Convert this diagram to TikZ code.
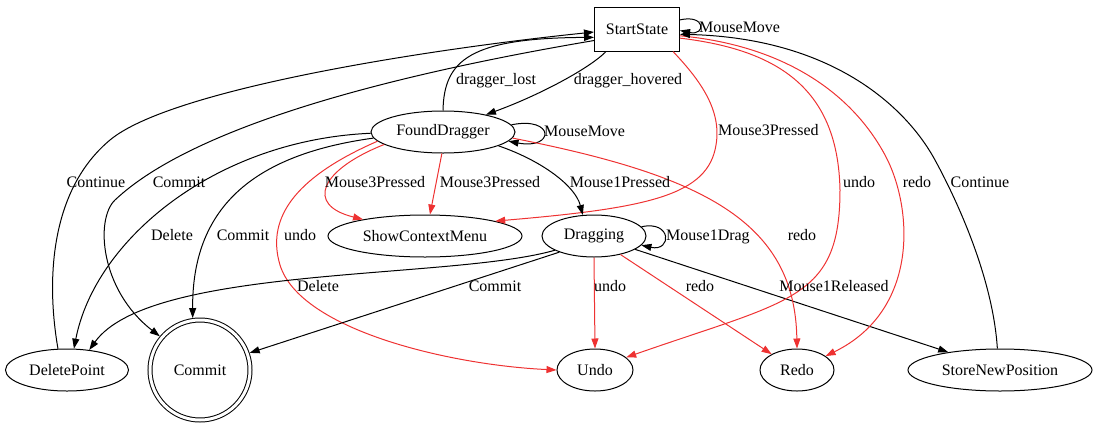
\documentclass[tikz,border=0pt]{standalone}
\usepackage{fontspec}
\setmainfont{Liberation Serif}
\usetikzlibrary{arrows.meta,shapes.geometric}
\definecolor{ered}{RGB}{238,50,50}
\begin{document}
\begin{tikzpicture}[x=1pt,y=-1pt,
  every node/.style={font=\fontsize{16pt}{19pt}\selectfont},
  ell/.style={draw, ellipse, minimum height=42pt, inner sep=0pt, line width=1pt},
  rbox/.style={draw, rectangle, minimum width=85pt, minimum height=44pt, inner sep=0pt, line width=1pt},
  dcirc/.style={draw, circle, double, double distance=3pt, line width=1pt, minimum size=100pt, inner sep=0pt, outer sep=2.5pt},
  lbl/.style={inner sep=0pt, text height=11pt, text depth=3pt},
  edge/.style={line width=1pt, -{Triangle[length=10pt,width=7pt]}},
  redge/.style={edge, color=ered}]
\useasboundingbox (0,0) rectangle (1093,424);

% nodes
\node[rbox] (S) at (637,29) {StartState};
\node[ell, minimum width=144pt] (FD) at (443,132) {FoundDragger};
\node[ell, minimum width=194pt] (SCM) at (425,236) {ShowContextMenu};
\node[ell, minimum width=104pt] (DR) at (594,236) {Dragging};
\node[ell, minimum width=123pt] (DP) at (67,370) {DeletePoint};
\node[dcirc] (C) at (200,370) {Commit};
\node[ell, minimum width=76pt] (U) at (595,370) {Undo};
\node[ell, minimum width=74pt] (R) at (797,370) {Redo};
\node[ell, minimum width=184pt] (SNP) at (1000,370) {StoreNewPosition};

% edges
\draw[edge] (S.12) .. controls (706,14) and (706,36) .. (S.-2);
\draw[edge] (S.-144) .. controls (590,68) and (540,95) .. (FD.22);
\draw[edge] (FD.north) .. controls (444,60) and (470,38) .. (S.191);
\draw[edge] (FD.6) .. controls (555,116) and (555,150) .. (FD.-8);
\draw[redge] (FD.-93) -- (SCM.77);
\draw[redge] (FD.192) .. controls (320,170) and (305,205) .. (SCM.165);
\draw[redge] (S.-32) .. controls (700,80) and (722,110) .. (716,145) .. controls (708,195) and (650,208) .. (SCM.12);
\draw[edge] (FD.-14) .. controls (540,160) and (575,185) .. (DR.118);
\draw[edge] (DR.11) .. controls (672,220) and (672,252) .. (DR.-11);
\draw[redge] (FD.188) .. controls (300,175) and (265,215) .. (280,265) .. controls (300,330) and (450,365) .. (U.west);
\draw[edge] (FD.181) .. controls (215,140) and (95,240) .. (DP.72);
\draw[edge] (FD.185) .. controls (250,155) and (192,210) .. (C.98);
\draw[edge] (S.195) .. controls (420,70) and (200,120) .. (115,200) .. controls (95,219) and (100,290) .. (C.140);
\draw[edge] (DP.113) .. controls (46,280) and (50,190) .. (110,140) .. controls (170,90) and (420,50) .. (S.184);
\draw[edge] (DR.200) .. controls (450,280) and (150,265) .. (DP.42);
\draw[edge] (DR.205) -- (C.19);
\draw[redge] (DR.south) -- (U.north);
\draw[redge] (DR.-35) -- (R.148);
\draw[edge] (DR.-18) -- (SNP.161);
\draw[redge] (S.-12) .. controls (780,50) and (838,90) .. (840,190) .. controls (840,300) and (790,300) .. (U.22);
\draw[redge] (S.-9) .. controls (780,45) and (850,90) .. (885,155) .. controls (913,207) and (920,310) .. (R.26);
\draw[redge] (FD.-5) .. controls (700,175) and (795,220) .. (R.north);
\draw[edge] (SNP.97) .. controls (993,280) and (959,204) .. (935,160) .. controls (905,105) and (830,38) .. (S.-7);

% labels
\node[lbl, anchor=west] (l1) at (699,28) {MouseMove};
\node[lbl] (l2) at (628,80) {dragger\_hovered};
\node[lbl] (l3) at (496,80) {dragger\_lost};
\node[lbl, anchor=west] (l4) at (544,132) {MouseMove};
\node[lbl] (l5) at (490,183) {Mouse3Pressed};
\node[lbl] (l6) at (375,183) {Mouse3Pressed};
\node[lbl, anchor=west] (l7) at (718,131) {Mouse3Pressed};
\node[lbl] (l8) at (620,183) {Mouse1Pressed};
\node[lbl, anchor=west] (l9) at (666,236) {Mouse1Drag};
\node[lbl] (l10) at (96,183) {Continue};
\node[lbl] (l11) at (179,183) {Commit};
\node[lbl] (l12) at (172,236) {Delete};
\node[lbl] (l13) at (243,236) {Commit};
\node[lbl] (l14) at (300,236) {undo};
\node[lbl] (l15) at (318,287) {Delete};
\node[lbl] (l16) at (495,287) {Commit};
\node[lbl] (l17) at (610,287) {undo};
\node[lbl] (l18) at (700,287) {redo};
\node[lbl] (l19) at (834,287) {Mouse1Released};
\node[lbl] (l20) at (859,183) {undo};
\node[lbl] (l21) at (917,183) {redo};
\node[lbl] (l22) at (980,183) {Continue};
\node[lbl] (l23) at (802,236) {redo};
\end{tikzpicture}
\end{document}
